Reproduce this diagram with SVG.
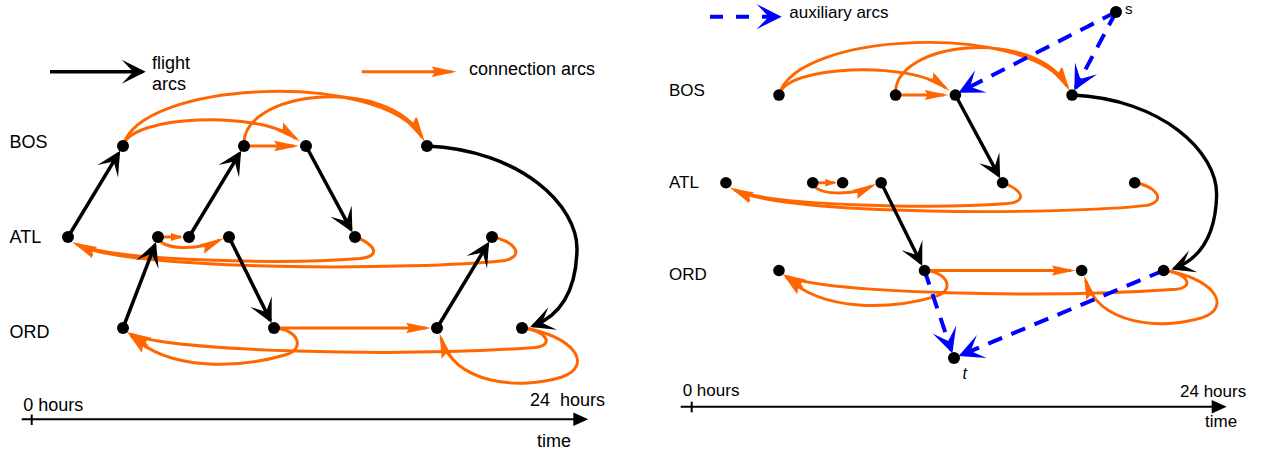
<svg xmlns="http://www.w3.org/2000/svg" width="1261" height="454" viewBox="0 0 1261 454">
<style>
text{font-family:"Liberation Sans",Arial,Helvetica,sans-serif;fill:#000}
.lb{font-size:18px}
.fl{fill:none;stroke:#000;stroke-width:3.5;marker-end:url(#mFl)}
.cn{fill:none;stroke:#FF6600;stroke-width:3;marker-end:url(#mCn)}
.cs{fill:none;stroke:#FF6600;stroke-width:3;marker-end:url(#mCs)}
.ax{fill:none;stroke:#0000FF;stroke-width:4;stroke-dasharray:15 10;marker-end:url(#mAx)}
.tl{fill:none;stroke:#000;stroke-width:2}
.nd{fill:#000}
</style>
<defs>
<marker id="mFl" viewBox="-26 -13 30 26" markerWidth="30" markerHeight="26" refX="0" refY="0" orient="auto" markerUnits="userSpaceOnUse"><path d="M3,0 L-21,-12 L-9.5,0 L-21,12 Z" fill="#000"/></marker>
<marker id="mAx" viewBox="-26 -14 30 28" markerWidth="30" markerHeight="28" refX="0" refY="0" orient="auto" markerUnits="userSpaceOnUse"><path d="M3,0 L-22,-12.5 L-10,0 L-22,12.5 Z" fill="#0000FF"/></marker>
<marker id="mCn" viewBox="-22 -7 29 14" markerWidth="29" markerHeight="14" refX="0" refY="0" orient="auto" markerUnits="userSpaceOnUse"><path d="M5,0 L-20,-5.2 L-16.5,0 L-20,5.2 Z" fill="#FF6600"/></marker>
<marker id="mCs" viewBox="-12 -5 15 10" markerWidth="15" markerHeight="10" refX="0" refY="0" orient="auto" markerUnits="userSpaceOnUse"><path d="M2,0 L-10,-4 L-10,4 Z" fill="#FF6600"/></marker>
</defs>

<!-- Left panel -->
<g id="left-legend">
<path class="fl" d="M50,71.7 L142.7,71.7"/>
<text class="lb" x="152" y="69.3">flight</text>
<text class="lb" x="152" y="90">arcs</text>
<path class="cn" d="M361.7,71.7 L451.7,71.7"/>
<text class="lb" x="469" y="75">connection arcs</text>
</g>
<g id="left-labels">
<text class="lb" x="9.5" y="148">BOS</text>
<text class="lb" x="9.5" y="243.3">ATL</text>
<text class="lb" x="9.5" y="338">ORD</text>
</g>
<g id="left-axis">
<path class="tl" d="M21.7,419.3 L574,419.3"/>
<path d="M588.3,419.3 L573.3,412.6 L573.3,426 Z" fill="#000"/>
<path class="tl" d="M31.7,414.5 L31.7,425" stroke-width="1.5"/>
<text class="lb" x="23.3" y="410.5">0 hours</text>
<text class="lb" x="530" y="405.5" xml:space="preserve">24  hours</text>
<text class="lb" x="537" y="446.5">time</text>
</g>
<g id="left-connectors">
<path class="cn" d="M123,146 C 130,115 258,110 296,138.6"/>
<path class="cn" d="M123,146 C 140,80 380,70 422,137"/>
<path class="cn" d="M244,146 L294,146"/>
<path class="cn" d="M244,146 C 240,90 388,75 422,137"/>
<path class="cs" d="M160,237 L181,237"/>
<path class="cn" d="M158,237 C 160,250 198,251 219.5,240.2"/>
<path class="cn" d="M356,237 C 375,245 382,256 360,258.5 C 290,264 120,262 76.8,244.3"/>
<path class="cn" d="M492,237 C 512,240 527,255 505,260.5 C 420,270 130,272 76.8,244.3"/>
<path class="cn" d="M274,328 L426,328"/>
<path class="cn" d="M275,328 C 300,330 305,350 285,355 C 240,368 170,372 130.8,335.3"/>
<path class="cn" d="M523,328 C 545,330 556,345 535,347.5 C 400,357 170,352 131,334"/>
<path class="cn" d="M523,328 C 572,335 595,365 562,377 C 520,390 455,385 441,338"/>
<path class="fl" d="M68,237 L118.6,153.3"/>
<path class="fl" d="M123,328 L154.9,244.9"/>
<path class="fl" d="M189,237 L239.6,153.3"/>
<path class="fl" d="M306,146 L351,229.6"/>
<path class="fl" d="M229,237 L270.3,320.4"/>
<path class="fl" d="M437,328 L487.6,244.3"/>
<path class="fl" d="M427,146 C 520,150 578,205 577,250 C 576,290 562,315 533,326"/>
</g>
<g id="L-BOS-1"><circle class="nd" cx="123" cy="146" r="6"/></g>
<g id="L-BOS-2"><circle class="nd" cx="244" cy="146" r="6"/></g>
<g id="L-BOS-3"><circle class="nd" cx="306" cy="146" r="6"/></g>
<g id="L-BOS-4"><circle class="nd" cx="427" cy="146" r="6"/></g>
<g id="L-ATL-1"><circle class="nd" cx="68" cy="237" r="6"/></g>
<g id="L-ATL-2"><circle class="nd" cx="158" cy="237" r="6"/></g>
<g id="L-ATL-3"><circle class="nd" cx="189" cy="237" r="6"/></g>
<g id="L-ATL-4"><circle class="nd" cx="229" cy="237" r="6"/></g>
<g id="L-ATL-5"><circle class="nd" cx="355" cy="237" r="6"/></g>
<g id="L-ATL-6"><circle class="nd" cx="492" cy="237" r="6"/></g>
<g id="L-ORD-1"><circle class="nd" cx="123" cy="328" r="6"/></g>
<g id="L-ORD-2"><circle class="nd" cx="274" cy="328" r="6"/></g>
<g id="L-ORD-3"><circle class="nd" cx="437" cy="328" r="6"/></g>
<g id="L-ORD-4"><circle class="nd" cx="522" cy="328" r="6"/></g>

<!-- Right panel -->
<g id="right-legend">
<path class="ax" d="M710,16.7 L778.7,16.7" style="stroke-dasharray:13 13"/>
<text x="789.3" y="18" font-size="17">auxiliary arcs</text>
</g>
<g id="right-labels">
<text x="669" y="96" font-size="17">BOS</text>
<text x="669" y="188.3" font-size="17">ATL</text>
<text x="669" y="280" font-size="17">ORD</text>
</g>
<g id="right-axis">
<path class="tl" d="M680.7,406.7 L1213,406.7"/>
<path d="M1226.7,406.7 L1211.7,400 L1211.7,413.4 Z" fill="#000"/>
<path class="tl" d="M691.7,401.7 L691.7,412.3" stroke-width="1.5"/>
<text x="682.7" y="395.5" font-size="17">0 hours</text>
<text x="1180" y="397" font-size="17">24 hours</text>
<text x="1205" y="426.5" font-size="17">time</text>
</g>
<g id="right-panel" transform="matrix(0.964 0 0 0.964 660.4 -45.7)">
<g id="right-connectors">
<path class="cn" d="M123,146 C 130,115 258,110 296,138.6"/>
<path class="cn" d="M123,146 C 140,80 380,70 422,137"/>
<path class="cn" d="M244,146 L294,146"/>
<path class="cn" d="M244,146 C 240,90 388,75 422,137"/>
<path class="cs" d="M160,237 L181,237"/>
<path class="cn" d="M158,237 C 160,250 198,251 219.5,240.2"/>
<path class="cn" d="M356,237 C 375,245 382,256 360,258.5 C 290,264 120,262 76.8,244.3"/>
<path class="cn" d="M492,237 C 512,240 527,255 505,260.5 C 420,270 130,272 76.8,244.3"/>
<path class="cn" d="M274,328 L426,328"/>
<path class="cn" d="M275,328 C 300,330 305,350 285,355 C 240,368 170,372 130.8,335.3"/>
<path class="cn" d="M523,328 C 545,330 556,345 535,347.5 C 400,357 170,352 131,334"/>
<path class="cn" d="M523,328 C 572,335 595,365 562,377 C 520,390 455,385 441,338"/>
<path class="fl" d="M306,146 L351,229.6"/>
<path class="fl" d="M229,237 L270.3,320.4"/>
<path class="fl" d="M427,146 C 520,150 578,205 577,250 C 576,290 562,315 533,326"/>
</g>
</g>
<g id="aux-connectors">
<path class="ax" d="M1116,12 L961.2,91.3"/>
<path class="ax" d="M1116,12 L1075.7,87.9"/>
<path class="ax" d="M924.5,270.5 L951.4,350.4"/>
<path class="ax" d="M1163.6,270.5 L961.4,354.9"/>
</g>
<g transform="matrix(0.964 0 0 0.964 660.4 -45.7)">
<g id="R-BOS-1"><circle class="nd" cx="123" cy="146" r="6"/></g>
<g id="R-BOS-2"><circle class="nd" cx="244" cy="146" r="6"/></g>
<g id="R-BOS-3"><circle class="nd" cx="306" cy="146" r="6"/></g>
<g id="R-BOS-4"><circle class="nd" cx="427" cy="146" r="6"/></g>
<g id="R-ATL-1"><circle class="nd" cx="68" cy="237" r="6"/></g>
<g id="R-ATL-2"><circle class="nd" cx="158" cy="237" r="6"/></g>
<g id="R-ATL-3"><circle class="nd" cx="189" cy="237" r="6"/></g>
<g id="R-ATL-4"><circle class="nd" cx="229" cy="237" r="6"/></g>
<g id="R-ATL-5"><circle class="nd" cx="355" cy="237" r="6"/></g>
<g id="R-ATL-6"><circle class="nd" cx="492" cy="237" r="6"/></g>
<g id="R-ORD-1"><circle class="nd" cx="123" cy="328" r="6"/></g>
<g id="R-ORD-2"><circle class="nd" cx="274" cy="328" r="6"/></g>
<g id="R-ORD-3"><circle class="nd" cx="437" cy="328" r="6"/></g>
<g id="R-ORD-4"><circle class="nd" cx="522" cy="328" r="6"/></g>
</g>
<g id="node-s"><circle class="nd" cx="1116" cy="12" r="6"/><text x="1125" y="13.5" font-size="15">s</text></g>
<g id="node-t"><circle class="nd" cx="954" cy="358" r="6"/><text x="962.5" y="378.5" font-size="16" font-style="italic">t</text></g>
</svg>
